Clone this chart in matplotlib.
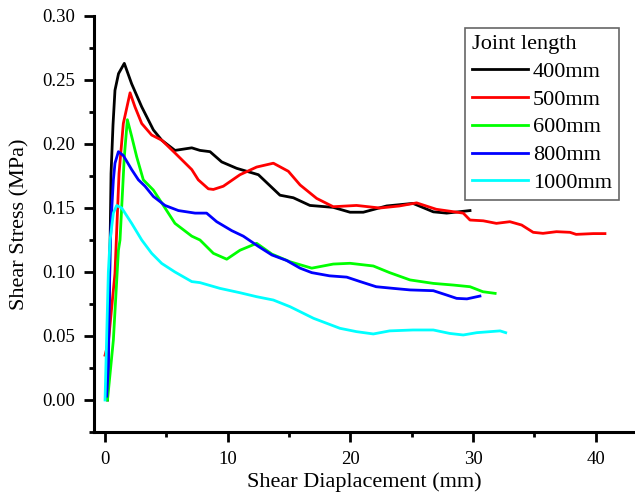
import matplotlib
matplotlib.use("Agg")
import matplotlib.pyplot as plt
from matplotlib.ticker import MultipleLocator
import numpy as np

plt.rcParams['font.family'] = ['Liberation Serif', 'DejaVu Serif']
plt.rcParams['mathtext.fontset'] = 'stix'

labels = ["400mm", "500mm", "600mm", "800mm", "1000mm"]
colors = ["#000000", "#ff0000", "#00ff00", "#0000ff", "#00ffff"]

x400 = [0.2, 0.35, 0.49, 0.65, 0.81, 1.1, 1.57, 2.17, 2.99, 3.94, 4.62, 5.7, 7.07, 7.74, 8.56,
        9.51, 10.73, 12.5, 14.26, 15.35, 16.7, 18.6, 19.97, 21.05, 22.96, 25.1, 26.76, 27.85, 29.75]
y400 = [0.0, 0.08, 0.177, 0.215, 0.242, 0.255, 0.263, 0.247, 0.229, 0.211, 0.203, 0.195, 0.197, 0.195, 0.194,
        0.186, 0.181, 0.176, 0.160, 0.158, 0.152, 0.1505, 0.1467, 0.1467, 0.1516, 0.1536, 0.147, 0.146, 0.148]

x500 = [0.0, 0.27, 0.81, 1.14, 1.49, 2.04, 2.44, 2.99, 3.8, 4.62, 5.7, 7.07, 7.6, 8.42, 8.83, 9.64,
        11.0, 12.36, 13.72, 14.94, 15.9, 17.25, 18.6, 20.5, 22.4, 24.0, 25.4, 27.0, 29.2, 29.75,
        30.83, 31.9, 33.0, 33.96, 34.9, 35.7, 36.8, 37.9, 38.4, 39.8, 40.75]
y500 = [0.035, 0.045, 0.099, 0.177, 0.216, 0.240, 0.229, 0.216, 0.207, 0.203, 0.193, 0.180, 0.172, 0.165, 0.1645, 0.167,
        0.176, 0.182, 0.185, 0.1787, 0.168, 0.1575, 0.151, 0.152, 0.150, 0.1516, 0.154, 0.149, 0.146, 0.1406,
        0.140, 0.138, 0.1393, 0.1367, 0.131, 0.1302, 0.1315, 0.131, 0.1294, 0.130, 0.130]

x600 = [0.2, 0.68, 1.09, 1.22, 1.57, 1.82, 2.17, 2.58, 3.12, 3.94, 4.62, 5.7, 7.07, 7.74, 8.83, 9.92,
        11.0, 12.36, 13.6, 15.08, 16.85, 18.6, 19.97, 21.87, 23.2, 24.86, 26.76, 28.39, 29.75, 30.8, 31.8]
y600 = [0.0, 0.047, 0.117, 0.125, 0.190, 0.219, 0.206, 0.190, 0.172, 0.164, 0.154, 0.138, 0.128, 0.125, 0.1146, 0.110,
        0.117, 0.1224, 0.114, 0.108, 0.103, 0.1062, 0.1068, 0.1047, 0.0995, 0.0938, 0.0911, 0.0898, 0.0885, 0.0846, 0.0833]

x800 = [0.14, 0.27, 0.41, 0.55, 0.68, 0.81, 1.09, 1.49, 2.17, 2.72, 3.26, 3.94, 4.89, 5.98, 7.34, 8.28,
        9.1, 10.33, 11.27, 12.5, 13.6, 14.8, 15.9, 16.85, 18.3, 19.7, 20.8, 22.1, 23.5, 24.86, 26.76,
        27.85, 28.66, 29.5, 30.56]
y800 = [0.003, 0.026, 0.117, 0.150, 0.172, 0.185, 0.194, 0.191, 0.180, 0.172, 0.167, 0.159, 0.152, 0.148, 0.146, 0.146,
        0.1393, 0.1323, 0.128, 0.120, 0.1133, 0.109, 0.103, 0.0995, 0.097, 0.096, 0.0925, 0.0885, 0.0872, 0.086, 0.0854,
        0.082, 0.0794, 0.079, 0.0812]

x1000 = [0.0, 0.27, 0.41, 0.68, 0.95, 1.36, 2.17, 2.99, 3.8, 4.62, 5.7, 7.07, 7.74, 9.37, 11.0, 12.36,
         13.72, 15.08, 17.0, 19.15, 20.5, 21.87, 23.2, 25.1, 26.76, 28.1, 29.2, 30.3, 32.2, 32.66]
y1000 = [0.0, 0.100, 0.125, 0.146, 0.152, 0.150, 0.138, 0.125, 0.1146, 0.1067, 0.100, 0.0925, 0.0917, 0.0872, 0.0838, 0.0807,
         0.0781, 0.0729, 0.0638, 0.056, 0.0534, 0.0516, 0.054, 0.0547, 0.0547, 0.052, 0.0508, 0.0526, 0.054, 0.0526]

series_x = [x400, x500, x600, x800, x1000]
series_y = [y400, y500, y600, y800, y1000]

fig = plt.figure(figsize=(6.35, 4.96), dpi=100)
ax = fig.add_axes([94/635, (496-432)/496, (635-94)/635, (432-16)/496])

for xs, ys, c, lab in zip(series_x, series_y, colors, labels):
    ax.plot(xs, ys, color=c, lw=2.0, label=lab, solid_joinstyle='round')

ax.set_xlim(-0.9, 43.2)
ax.set_ylim(-0.025, 0.30)
ax.xaxis.set_major_locator(MultipleLocator(10))
ax.xaxis.set_minor_locator(MultipleLocator(5))
ax.yaxis.set_major_locator(MultipleLocator(0.05))
ax.yaxis.set_minor_locator(MultipleLocator(0.025))
ax.yaxis.set_major_formatter(plt.FuncFormatter(lambda v, p: f"{v:.2f}"))

for s in ['top', 'right']:
    ax.spines[s].set_visible(False)
for s in ['left', 'bottom']:
    ax.spines[s].set_linewidth(2.2)

ax.tick_params(which='major', direction='out', length=7, width=2.0, labelsize=13.5, pad=6.5)
ax.tick_params(which='minor', direction='out', length=3.6, width=2.0)

ax.set_xlabel("Shear Diaplacement (mm)", fontsize=16, labelpad=3)
ax.set_ylabel("Shear Stress (MPa)", fontsize=16, labelpad=9)

leg = ax.legend(title="Joint length", loc='upper right', bbox_to_anchor=(0.970, 0.971),
                borderaxespad=0, fontsize=16, title_fontsize=16, fancybox=False,
                edgecolor='#666666', framealpha=1, handlelength=2.5, handletextpad=0.25,
                borderpad=0.3, labelspacing=0.33)
leg._legend_box.align = "left"
leg.get_frame().set_linewidth(1.2)

fig.savefig("out.png", dpi=100)
